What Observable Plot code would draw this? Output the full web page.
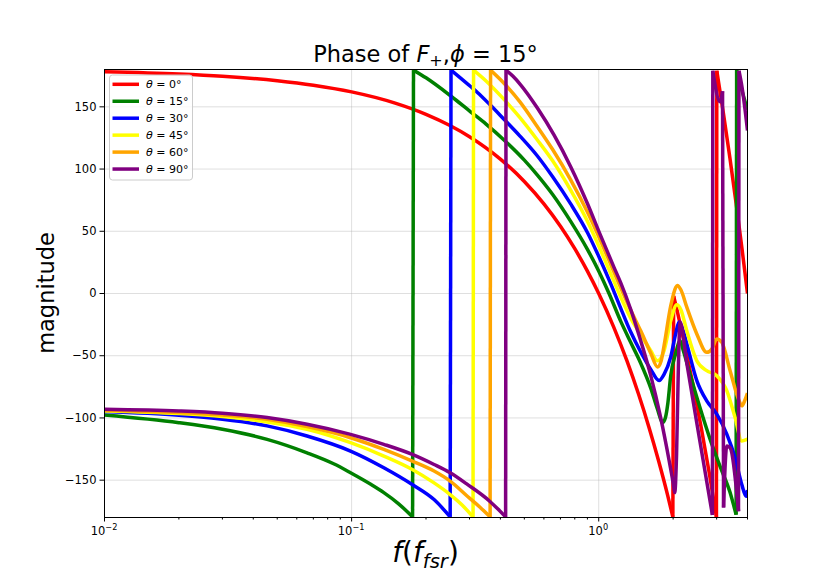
<!DOCTYPE html>
<html>
<head>
<meta charset="utf-8">
<script src="https://cdn.jsdelivr.net/npm/d3@7"></script>
<script src="https://cdn.jsdelivr.net/npm/@observablehq/plot@0.6"></script>
<style>
  html, body { margin: 0; padding: 0; background: white; }
  svg { display: block; }
</style>
</head>
<body>
<script>
// ---- data: [frequency (f_fsr), phase (deg)] ----
const thetaDegrees = [0, 15, 30, 45, 60, 90];
const lineColors = ["#ff0000", "#008000", "#0000ff", "#ffff00", "#ffa500", "#800080"];

const theta0 = [[0.01,178.2],[0.02,176.4],[0.03,174.6],[0.05,171],[0.07,167.4],[0.1,162],[0.15,153],[0.2,144],[0.25,135],[0.3,126],[0.4,108],[0.5,90],[0.6,72],[0.7,54],[0.8,36],[0.9,18],[1.0,0],[1.15,-27],[1.3,-54],[1.45,-81],[1.6,-108],[1.75,-135],[1.9,-162],[1.995,-179.5],[2.01,-2],[2.07,-12.6],[2.2,-36],[2.4,-72],[2.6,-108],[2.8,-144],[2.995,-179.5],[3.005,179],[3.2,144],[3.4,108],[3.6,72],[3.8,36],[4.0,0]];

const theta15 = [[0.01,-97.6],[0.02,-103.8],[0.03,-109.1],[0.0455,-117.2],[0.066,-128],[0.085,-137],[0.099,-144],[0.12,-153.5],[0.135,-160],[0.155,-169],[0.1765,-179.5],[0.178,179.5],[0.2,173.3],[0.252,158.7],[0.303,146],[0.35,136.1],[0.4136,123.4],[0.5,107.2],[0.5647,95.2],[0.65,79.8],[0.77,58],[0.9,35.5],[1.003,17.5],[1.1,0.2],[1.228,-22.4],[1.348,-39.4],[1.479,-56],[1.624,-76],[1.729,-93],[1.811,-103.8],[1.86,-100],[1.905,-88],[1.956,-66],[2.05,-48],[2.134,-38],[2.2,-46],[2.343,-65],[2.572,-92],[2.822,-117],[3.098,-139],[3.401,-160],[3.597,-177.7],[3.615,179.5],[3.8,163],[4.0,147.6]];

const theta30 = [[0.01,-94.9],[0.02,-97.9],[0.03,-101.1],[0.0455,-106.4],[0.066,-114.5],[0.099,-126.6],[0.135,-140],[0.176,-153.5],[0.2156,-165.6],[0.2505,-179.5],[0.2525,179.5],[0.303,166.3],[0.323,161.5],[0.36,152.4],[0.4136,140],[0.48,126.5],[0.5647,110.5],[0.65,94],[0.77,72],[0.9,49],[1.003,29.3],[1.12,7.5],[1.228,-12],[1.307,-25],[1.348,-31],[1.479,-47],[1.624,-61],[1.754,-70],[1.838,-65],[1.956,-51],[2.05,-32],[2.114,-23],[2.18,-28],[2.272,-40.6],[2.494,-70],[2.736,-86.3],[3.004,-97],[3.298,-113],[3.563,-132],[3.793,-153.5],[3.95,-163],[4.0,-158]];

const theta45 = [[0.01,-94.4],[0.02,-96.5],[0.03,-98.9],[0.0455,-103.2],[0.066,-109.1],[0.099,-119.9],[0.135,-130.6],[0.176,-141.4],[0.2156,-152.2],[0.2505,-161.6],[0.28,-170],[0.31,-179.5],[0.3115,179.5],[0.35,170.8],[0.4136,156],[0.48,141.4],[0.5647,123.4],[0.65,106.8],[0.77,83],[0.9,58],[1.003,37.7],[1.12,15.7],[1.228,-2.9],[1.348,-20],[1.479,-33],[1.624,-46],[1.729,-54],[1.838,-46],[1.956,-22],[2.07,-9],[2.15,-13],[2.272,-30],[2.494,-54],[2.736,-62],[3.004,-66],[3.298,-78],[3.563,-99.7],[3.793,-118.5],[4.0,-117]];

const theta60 = [[0.01,-93.8],[0.02,-95.7],[0.03,-97.6],[0.0455,-101],[0.066,-107],[0.099,-115.9],[0.135,-125.3],[0.176,-134.7],[0.2156,-142.7],[0.2505,-150.8],[0.294,-162.9],[0.33,-171.5],[0.3635,-179.5],[0.365,179.5],[0.4136,169],[0.48,154],[0.5647,134],[0.65,115.9],[0.77,91.3],[0.9,65.4],[1.003,45.1],[1.12,23.1],[1.228,4.5],[1.348,-13.5],[1.479,-30],[1.624,-48],[1.729,-59],[1.79,-54],[1.838,-42],[1.956,-10],[2.05,5],[2.08,6.5],[2.15,3],[2.272,-11],[2.494,-32.5],[2.736,-47.3],[2.868,-44.7],[3.004,-36.6],[3.147,-39.2],[3.401,-62],[3.679,-85],[3.793,-90.3],[3.9,-86],[4.0,-80]];

const theta90 = [[0.01,-93],[0.02,-94.4],[0.03,-96.2],[0.0455,-99.7],[0.066,-105.1],[0.099,-113.2],[0.135,-121.2],[0.176,-129.3],[0.2156,-137.4],[0.2505,-144.1],[0.294,-153.4],[0.362,-166.9],[0.39,-173],[0.42,-179.5],[0.4215,179.5],[0.45,174.5],[0.483,167.7],[0.5647,149],[0.659,127.4],[0.77,101.9],[0.9,72.3],[1.003,49.5],[1.153,21],[1.228,8.5],[1.348,-13],[1.479,-38],[1.624,-66],[1.782,-100],[1.926,-134],[2.0,-152],[2.03,-160],[2.065,-130],[2.1,-60],[2.134,-23],[2.272,-56],[2.494,-104],[2.885,-178],[2.895,179],[3.098,154],[3.17,162.5],[3.2,-172],[3.298,-122.6],[3.401,-124],[3.679,-175],[3.695,179],[3.8,166],[4.0,131]];

const seriesList = [theta0, theta15, theta30, theta45, theta60, theta90];

const xMajorTicks = [0.01, 0.1, 1];
const xMajorExponents = ["\u22122", "\u22121", "0"];
const xMinorTicks = [0.02,0.03,0.04,0.05,0.06,0.07,0.08,0.09,0.2,0.3,0.4,0.5,0.6,0.7,0.8,0.9,2,3,4];
const yTicks = [-150, -100, -50, 0, 50, 100, 150];

// ---- table for the library: smooth pieces between phase wraps, plus the wrap jumps ----
const rows = [];
seriesList.forEach((pts, i) => {
  const theta = thetaDegrees[i];
  let piece = 0;
  pts.forEach(([f, v], j) => {
    if (j > 0 && Math.abs(v - pts[j - 1][1]) > 150) {
      const [f0, v0] = pts[j - 1];
      rows.push({f: f0, v: v0, theta, seg: `${theta}-jump${j}`});
      rows.push({f, v, theta, seg: `${theta}-jump${j}`});
      piece++;
    }
    rows.push({f, v, theta, seg: `${theta}-piece${piece}`});
  });
});

const W = 830, H = 581, mL = 104, mR = 83, mT = 69, mB = 64;
const font = "DejaVu Sans, Verdana, sans-serif";

const plot = Plot.plot({
  width: W, height: H,
  marginLeft: mL, marginRight: mR, marginTop: mT, marginBottom: mB,
  style: {fontFamily: font, background: "white", color: "black", overflow: "visible"},
  x: {type: "log", domain: [0.01, 4]},
  y: {domain: [-180, 180]},
  color: {type: "ordinal", domain: thetaDegrees, range: lineColors},
  marks: [
    Plot.gridX(xMajorTicks, {stroke: "#b0b0b0", strokeOpacity: 0.45, strokeWidth: 0.9}),
    Plot.gridY(yTicks, {stroke: "#b0b0b0", strokeOpacity: 0.45, strokeWidth: 0.9}),
    Plot.line(rows, {x: "f", y: "v", z: "seg", stroke: "theta", strokeWidth: 3.5,
      curve: "monotone-x", strokeLinejoin: "round", strokeLinecap: "butt", clip: true}),
    Plot.frame({stroke: "black", strokeWidth: 1}),
    Plot.axisX(xMajorTicks, {tickSize: 4.5, tickFormat: () => "", label: null}),
    Plot.axisX(xMinorTicks, {tickSize: 2.5, tickFormat: () => "", label: null}),
    Plot.axisY(yTicks, {tickSize: 4.5, tickPadding: 3.5, fontSize: 11.5, label: null,
      tickFormat: d3.format("d")})
  ]
});
document.body.appendChild(plot);

const s = d3.select(plot);
const xs = plot.scale("x");
const cx = mL + (W - mL - mR) / 2;

// x tick labels as 10 with a raised exponent
xMajorTicks.forEach((t, i) => {
  const tx = s.append("text").attr("x", xs.apply(t)).attr("y", 535).attr("text-anchor", "middle")
    .attr("font-family", font).attr("font-size", 11.5).attr("fill", "black");
  tx.append("tspan").text("10");
  tx.append("tspan").attr("font-size", 8.2).attr("dy", -5).text(xMajorExponents[i]);
});

// title
const title = s.append("text").attr("x", cx).attr("y", 62).attr("text-anchor", "middle")
  .attr("font-family", font).attr("font-size", 22.5).attr("fill", "black");
title.append("tspan").text("Phase of ");
title.append("tspan").attr("font-style", "italic").text("F");
title.append("tspan").attr("font-size", 16).attr("dy", 4).text("+");
title.append("tspan").attr("dy", -4).text(",");
title.append("tspan").attr("font-style", "italic").text("\u03D5");
title.append("tspan").text(" = 15\u00B0");

// x label
const xl = s.append("text").attr("x", cx).attr("y", 562).attr("text-anchor", "middle")
  .attr("font-family", font).attr("font-size", 28).attr("fill", "black");
xl.append("tspan").attr("font-style", "italic").text("f");
xl.append("tspan").text("(");
xl.append("tspan").attr("font-style", "italic").text("f");
xl.append("tspan").attr("font-style", "italic").attr("font-size", 19.5).attr("dy", 6).text("fsr");
xl.append("tspan").attr("dy", -6).text(")");

// y label
s.append("text").attr("transform", `translate(54,${mT + (H - mT - mB) / 2}) rotate(-90)`)
  .attr("text-anchor", "middle").attr("font-family", font).attr("font-size", 22.5)
  .attr("fill", "black").text("magnitude");

// legend
const lg = s.append("g");
lg.append("rect").attr("x", 109.5).attr("y", 75).attr("width", 83).attr("height", 105)
  .attr("rx", 3).attr("fill", "white").attr("fill-opacity", 0.8).attr("stroke", "#cccccc");
thetaDegrees.forEach((t, i) => {
  const yy = 84.3 + i * 16.95;
  lg.append("line").attr("x1", 112.5).attr("x2", 139).attr("y1", yy).attr("y2", yy)
    .attr("stroke", lineColors[i]).attr("stroke-width", 3.5);
  const tx = lg.append("text").attr("x", 146).attr("y", yy + 4).attr("text-anchor", "start")
    .attr("font-family", font).attr("font-size", 11).attr("fill", "black");
  tx.append("tspan").attr("font-style", "italic").text("\u03B8");
  tx.append("tspan").text(" = " + t + "\u00B0");
});
</script>
</body>
</html>
